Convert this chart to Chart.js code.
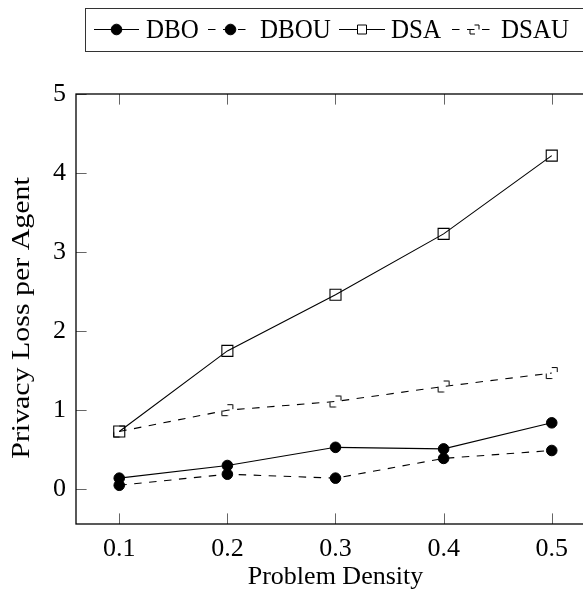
<!DOCTYPE html>
<html>
<head>
<meta charset="utf-8">
<script src="https://cdn.jsdelivr.net/npm/chart.js@4/dist/chart.umd.min.js"></script>
<style>
html,body{margin:0;padding:0;background:#fff;overflow:hidden;}
#wrap{width:610px;height:593px;}
</style>
</head>
<body>
<div id="wrap"><canvas id="c" width="610" height="593"></canvas></div>
<script>
const density = [0.1, 0.2, 0.3, 0.4, 0.5];
const dbo  = [0.14, 0.30, 0.53, 0.51, 0.84];
const dbou = [0.05, 0.19, 0.14, 0.39, 0.49];
const dsa  = [0.73, 1.75, 2.46, 3.23, 4.22];
const dsau = [0.73, 1.00, 1.11, 1.30, 1.47];
const xTickValues = [0.1, 0.2, 0.3, 0.4, 0.5];
const xTickLabels = ['0.1', '0.2', '0.3', '0.4', '0.5'];
const yTickValues = [0, 1, 2, 3, 4, 5];
const yTickLabels = ['0', '1', '2', '3', '4', '5'];
const seriesNames = ['DBO', 'DBOU', 'DSA', 'DSAU'];
const xTitle = 'Problem Density';
const yTitle = 'Privacy Loss per Agent';

const SERIF = '"Liberation Serif", "Times New Roman", serif';

function drawDashedSquare(ctx, cx, cy, h) {
  ctx.beginPath();
  ctx.moveTo(cx, cy - h);
  ctx.lineTo(cx + h, cy - h);
  ctx.lineTo(cx + h, cy - h + 4.5);
  ctx.moveTo(cx + 0.5, cy + h);
  ctx.lineTo(cx - h, cy + h);
  ctx.lineTo(cx - h, cy + 0.5);
  ctx.stroke();
}

const dsauMarker = document.createElement('canvas');
dsauMarker.width = 16; dsauMarker.height = 16;
(function(){
  const m = dsauMarker.getContext('2d');
  m.strokeStyle = '#000';
  m.lineWidth = 1;
  drawDashedSquare(m, 8, 8, 5.5);
})();

function pts(vals){ return density.map((x,i)=>({x:x, y:vals[i]})); }

const DASH = [7.5, 7.5];

const framePlugin = {
  id: 'frame',
  afterDraw(chart) {
    const ctx = chart.ctx;
    const a = chart.chartArea;
    const xs = chart.scales.x, ys = chart.scales.y;
    ctx.save();
    ctx.strokeStyle = '#666';
    ctx.lineWidth = 1;
    const TL = 10.6;
    ctx.beginPath();
    xTickValues.forEach(v => {
      const px = Math.round(xs.getPixelForValue(v)) + 0.5;
      ctx.moveTo(px, a.bottom); ctx.lineTo(px, a.bottom - TL);
      ctx.moveTo(px, a.top); ctx.lineTo(px, a.top + TL);
    });
    yTickValues.forEach(v => {
      const py = Math.round(ys.getPixelForValue(v)) + 0.5;
      ctx.moveTo(a.left, py); ctx.lineTo(a.left + TL, py);
      ctx.moveTo(a.right, py); ctx.lineTo(a.right - TL, py);
    });
    ctx.stroke();
    ctx.strokeStyle = '#000';
    ctx.lineWidth = 1.3;
    ctx.strokeRect(a.left, a.top, a.right - a.left, a.bottom - a.top);

    // y axis title (slightly stretched along its length like the reference)
    ctx.save();
    ctx.fillStyle = '#000';
    ctx.font = '26px ' + SERIF;
    ctx.textAlign = 'center';
    ctx.textBaseline = 'middle';
    ctx.translate(22, (a.top + a.bottom) / 2 + 9);
    ctx.rotate(-Math.PI / 2);
    ctx.scale(1.15, 1);
    ctx.fillText(yTitle, 0, 0);
    ctx.restore();

    // legend
    const bx = 85, by = 8.5, bh = 43;
    ctx.strokeStyle = '#333';
    ctx.lineWidth = 1;
    ctx.strokeRect(bx + 0.5, by, 700, bh);
    const items = [
      {x1: 94, x2: 139, text: 146},
      {x1: 208, x2: 253, text: 260},
      {x1: 339, x2: 385, text: 391},
      {x1: 452, x2: 497, text: 501}
    ];
    const ly = 29.5;
    ctx.font = '25px ' + SERIF;
    ctx.textBaseline = 'alphabetic';
    ctx.fillStyle = '#000';
    chart.data.datasets.forEach((ds, i) => {
      const it = items[i];
      ctx.save();
      ctx.strokeStyle = '#000';
      ctx.lineWidth = ds.borderWidth;
      ctx.setLineDash(ds.borderDash || []);
      ctx.beginPath();
      ctx.moveTo(it.x1, ly); ctx.lineTo(it.x2, ly);
      ctx.stroke();
      ctx.restore();
      const mx = (it.x1 + it.x2) / 2;
      ctx.save();
      ctx.strokeStyle = '#000';
      ctx.lineWidth = 1;
      if (i === 3) {
        drawDashedSquare(ctx, mx, ly, 4.5);
      } else if (ds.pointStyle === 'circle') {
        ctx.fillStyle = '#000';
        ctx.beginPath();
        ctx.arc(mx, ly, 5.3, 0, Math.PI * 2);
        ctx.fill(); ctx.stroke();
      } else {
        ctx.fillStyle = '#fff';
        ctx.beginPath();
        ctx.rect(mx - 4.5, ly - 4.5, 9, 9);
        ctx.fill(); ctx.stroke();
      }
      ctx.restore();
      ctx.save();
      ctx.translate(it.text, 37.5);
      ctx.scale(1, 1.08);
      ctx.fillText(seriesNames[i], 0, 0);
      ctx.restore();
    });
    ctx.restore();
  }
};

new Chart(document.getElementById('c'), {
  type: 'line',
  data: {
    datasets: [
      {label: seriesNames[0], data: pts(dbo), borderColor: '#000', borderWidth: 1.1,
       pointStyle: 'circle', pointRadius: 5.3, pointBackgroundColor: '#000', pointBorderColor: '#000', pointBorderWidth: 1},
      {label: seriesNames[1], data: pts(dbou), borderColor: '#000', borderWidth: 1.1, borderDash: DASH,
       pointStyle: 'circle', pointRadius: 5.3, pointBackgroundColor: '#000', pointBorderColor: '#000', pointBorderWidth: 1},
      {label: seriesNames[2], data: pts(dsa), borderColor: '#000', borderWidth: 1.1,
       pointStyle: 'rect', pointRadius: 7.8, pointBackgroundColor: 'rgba(0,0,0,0)', pointBorderColor: '#000', pointBorderWidth: 1.1},
      {label: seriesNames[3], data: pts(dsau), borderColor: '#000', borderWidth: 1.1, borderDash: DASH,
       pointStyle: dsauMarker, pointRadius: 6, pointBackgroundColor: 'rgba(0,0,0,0)', pointBorderColor: '#000'}
    ]
  },
  options: {
    responsive: false,
    animation: false,
    events: [],
    layout: {padding: {top: 94, right: 15, left: 0, bottom: 0}},
    plugins: {legend: {display: false}, tooltip: {enabled: false}},
    elements: {line: {tension: 0}},
    scales: {
      x: {
        type: 'linear', min: 0.06, max: 0.54,
        grid: {display: false, drawTicks: false}, border: {display: false},
        afterBuildTicks(s) { s.ticks = xTickValues.map(v => ({value: v})); },
        afterFit(s) { s.height = 69; },
        ticks: {
          color: '#000', padding: 10, maxRotation: 0, autoSkip: false,
          font: {family: SERIF, size: 26},
          callback: (v, i) => xTickLabels[i]
        },
        title: {display: true, text: xTitle, color: '#000',
          font: {family: SERIF, size: 26}, padding: {top: 0, bottom: 0}}
      },
      y: {
        type: 'linear', min: -0.44, max: 5,
        grid: {display: false, drawTicks: false}, border: {display: false},
        afterBuildTicks(s) { s.ticks = yTickValues.map(v => ({value: v})); },
        afterFit(s) { s.width = 76; },
        ticks: {
          color: '#000', padding: 10, autoSkip: false,
          font: {family: SERIF, size: 26},
          callback: (v, i) => yTickLabels[i]
        },
        title: {display: false, text: yTitle}
      }
    }
  },
  plugins: [framePlugin]
});
</script>
</body>
</html>
